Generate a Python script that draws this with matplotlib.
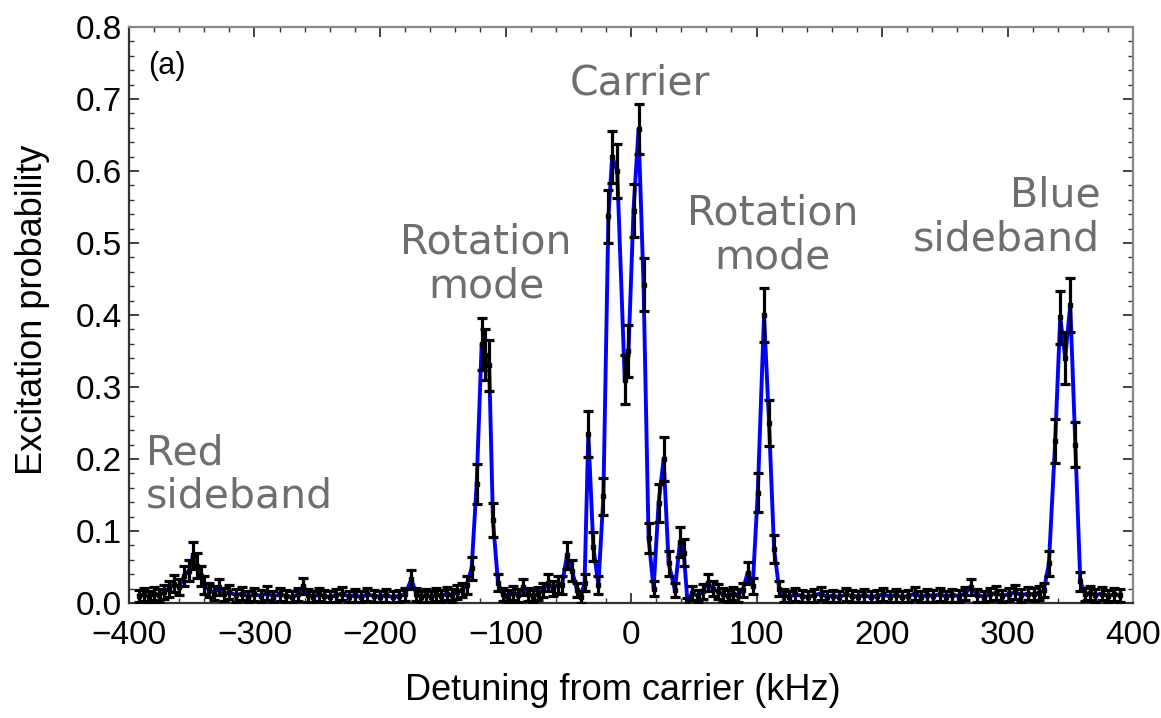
import matplotlib.pyplot as plt
from matplotlib.ticker import MultipleLocator

# Spectrum scan: detuning (kHz), excitation probability, projection-noise error bar
detuning = [
    -392, -388, -384, -380, -376, -372, -368, -364, -360, -356, -352, -349, -346, -343, -340, -336, -332, -328, -324, -320,
    -315, -310, -305, -300, -295, -290, -285, -280, -275, -270, -265, -261, -257, -253, -249, -245, -240, -235, -230, -225,
    -220, -215, -210, -205, -200, -195, -190, -185, -180, -175, -171, -167, -163, -159, -155, -151, -147, -143, -139, -135,
    -131, -127, -123, -119, -116, -113, -110, -106, -102, -98, -94, -90, -86, -82, -78, -74, -70, -66, -62, -58,
    -55, -51, -47, -43, -40, -37, -34, -30, -26, -22, -18, -15, -11, -5, -2, 2, 6, 10, 14, 18,
    22, 26, 30, 35, 39, 42, 45, 49, 53, 57, 61, 65, 69, 73, 77, 81, 85, 89, 93, 97,
    101, 106, 110, 114, 118, 122, 126, 131, 136, 141, 146, 151, 156, 161, 166, 171, 176, 181, 186, 191,
    196, 201, 206, 211, 216, 221, 226, 231, 236, 241, 246, 251, 256, 261, 266, 271, 276, 281, 286, 291,
    296, 301, 306, 311, 316, 321, 325, 329, 333, 338, 342, 346, 350, 354, 358, 362, 366, 370, 375, 380,
    385, 390,
]

excitation = [
    0.010, 0.012, 0.009, 0.013, 0.011, 0.015, 0.020, 0.027, 0.022, 0.038, 0.045, 0.066, 0.052, 0.038, 0.025, 0.018, 0.014, 0.022, 0.012, 0.015,
    0.011, 0.013, 0.009, 0.012, 0.010, 0.014, 0.009, 0.012, 0.010, 0.008, 0.012, 0.024, 0.011, 0.009, 0.012, 0.010, 0.008, 0.011, 0.013, 0.009,
    0.011, 0.008, 0.012, 0.010, 0.009, 0.011, 0.008, 0.010, 0.012, 0.033, 0.012, 0.009, 0.011, 0.008, 0.012, 0.010, 0.013, 0.011, 0.015, 0.018,
    0.025, 0.048, 0.165, 0.360, 0.345, 0.330, 0.115, 0.028, 0.012, 0.010, 0.014, 0.011, 0.022, 0.012, 0.010, 0.013, 0.018, 0.028, 0.020, 0.026,
    0.025, 0.066, 0.045, 0.018, 0.008, 0.028, 0.235, 0.078, 0.025, 0.148, 0.537, 0.620, 0.600, 0.310, 0.350, 0.545, 0.658, 0.442, 0.090, 0.020,
    0.139, 0.200, 0.055, 0.018, 0.085, 0.070, 0.002, 0.014, 0.010, 0.016, 0.028, 0.020, 0.016, 0.012, 0.010, 0.013, 0.011, 0.018, 0.042, 0.024,
    0.153, 0.400, 0.250, 0.075, 0.020, 0.011, 0.009, 0.012, 0.010, 0.008, 0.011, 0.013, 0.009, 0.010, 0.008, 0.012, 0.010, 0.009, 0.011, 0.008,
    0.010, 0.012, 0.009, 0.011, 0.008, 0.010, 0.013, 0.009, 0.011, 0.010, 0.012, 0.009, 0.011, 0.010, 0.013, 0.022, 0.011, 0.009, 0.012, 0.014,
    0.010, 0.012, 0.015, 0.011, 0.013, 0.012, 0.014, 0.018, 0.055, 0.225, 0.397, 0.340, 0.414, 0.220, 0.030, 0.012, 0.014, 0.011, 0.013, 0.010,
    0.012, 0.011,
]

error = [
    0.008, 0.009, 0.008, 0.009, 0.009, 0.010, 0.011, 0.012, 0.011, 0.014, 0.015, 0.019, 0.017, 0.014, 0.012, 0.010, 0.010, 0.011, 0.009, 0.010,
    0.009, 0.009, 0.008, 0.009, 0.008, 0.010, 0.008, 0.009, 0.008, 0.008, 0.009, 0.011, 0.009, 0.008, 0.009, 0.008, 0.008, 0.009, 0.009, 0.008,
    0.009, 0.008, 0.009, 0.008, 0.008, 0.009, 0.008, 0.008, 0.009, 0.013, 0.009, 0.008, 0.009, 0.008, 0.009, 0.008, 0.009, 0.009, 0.010, 0.010,
    0.012, 0.016, 0.028, 0.036, 0.035, 0.035, 0.024, 0.012, 0.009, 0.008, 0.010, 0.009, 0.011, 0.009, 0.008, 0.009, 0.010, 0.012, 0.010, 0.012,
    0.012, 0.019, 0.015, 0.010, 0.008, 0.012, 0.032, 0.020, 0.012, 0.026, 0.037, 0.036, 0.037, 0.034, 0.036, 0.037, 0.035, 0.037, 0.021, 0.010,
    0.026, 0.030, 0.017, 0.010, 0.021, 0.019, 0.005, 0.010, 0.008, 0.010, 0.012, 0.010, 0.010, 0.009, 0.008, 0.009, 0.009, 0.010, 0.015, 0.011,
    0.027, 0.037, 0.032, 0.020, 0.010, 0.009, 0.008, 0.009, 0.008, 0.008, 0.009, 0.009, 0.008, 0.008, 0.008, 0.009, 0.008, 0.008, 0.009, 0.008,
    0.008, 0.009, 0.008, 0.009, 0.008, 0.008, 0.009, 0.008, 0.009, 0.008, 0.009, 0.008, 0.009, 0.008, 0.009, 0.011, 0.009, 0.008, 0.009, 0.010,
    0.008, 0.009, 0.010, 0.009, 0.009, 0.009, 0.010, 0.010, 0.017, 0.031, 0.037, 0.036, 0.037, 0.031, 0.013, 0.009, 0.010, 0.009, 0.009, 0.008,
    0.009, 0.009,
]

# peak labels: text, x, y, horizontal alignment
peak_labels = [
    ("Red\nsideband", -386.5, 0.132, "left"),
    ("Rotation\nmode", -115.5, 0.425, "center"),
    ("Carrier", 7, 0.706, "center"),
    ("Rotation\nmode", 113, 0.465, "center"),
    ("Blue\nsideband", 374, 0.49, "right"),
]

tick_font = ["Liberation Sans", "DejaVu Sans"]

fig = plt.figure(figsize=(11.61, 7.18), dpi=100)
ax = fig.add_axes([129 / 1161, 115 / 718, 1004 / 1161, 576 / 718])

ax.plot(detuning, excitation, color="#0000ff", lw=2.8, zorder=2)
ax.errorbar(detuning, excitation, yerr=error, fmt="s", ms=3.2, color="black",
            ecolor="black", elinewidth=2.3, capsize=3.5, capthick=2.3, zorder=3)

for text, x, y, ha in peak_labels:
    ax.text(x, y, text, ha=ha, va="baseline", multialignment=ha,
            fontsize=29.5, color="#6e6e6e", family="DejaVu Sans", linespacing=1.12)

ax.text(0.019, 0.958, "(a)", transform=ax.transAxes, ha="left", va="top",
        fontsize=22, family=tick_font)

ax.set_xlim(-400, 400)
ax.set_ylim(0.0, 0.8)
ax.xaxis.set_major_locator(MultipleLocator(100))
ax.xaxis.set_minor_locator(MultipleLocator(20))
ax.yaxis.set_major_locator(MultipleLocator(0.1))
ax.yaxis.set_minor_locator(MultipleLocator(0.02))
ax.yaxis.set_major_formatter(plt.FuncFormatter(lambda v, p: f"{v:.1f}"))

ax.tick_params(which="both", direction="in", top=True, right=True, color="#333333")
ax.tick_params(which="major", length=7, width=1.3)
ax.tick_params(which="minor", length=3.5, width=1.0)
ax.tick_params(axis="x", pad=12)
ax.tick_params(axis="y", pad=5)
for lbl in ax.get_xticklabels() + ax.get_yticklabels():
    lbl.set_fontsize(24)
    lbl.set_family(tick_font)

for side in ["left", "bottom"]:
    ax.spines[side].set_color("#333333")
    ax.spines[side].set_linewidth(1.6)
for side in ["top", "right"]:
    ax.spines[side].set_color("#888888")
    ax.spines[side].set_linewidth(1.6)

fig.text(623 / 1161, 1 - 690 / 718, "Detuning from carrier (kHz)", ha="center",
         va="center", fontsize=26, family=tick_font)
fig.text(33 / 1161, 1 - 310 / 718, "Excitation probability", ha="center",
         va="center", rotation=90, fontsize=26, family=tick_font)

fig.savefig("out.png", dpi=100)
